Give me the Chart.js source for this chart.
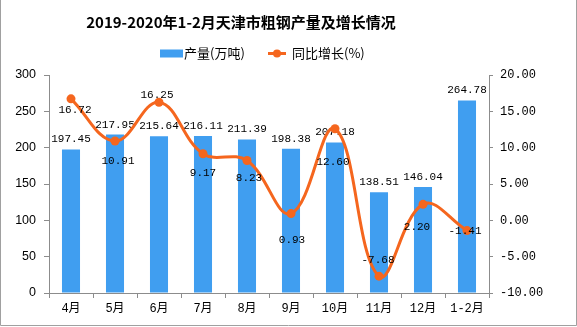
<!DOCTYPE html>
<html><head><meta charset="utf-8">
<script src="https://cdn.jsdelivr.net/npm/chart.js@4"></script>
<style>html,body{margin:0;padding:0;background:#fff;overflow:hidden}#c{display:block}</style>
</head><body>
<canvas id="c" width="577" height="327"></canvas>
<script>
const categories = ['4月','5月','6月','7月','8月','9月','10月','11月','12月','1-2月'];
const output = [197.45,217.95,215.64,216.11,211.39,198.38,207.18,138.51,146.04,264.78];
const growth = [16.72,10.91,16.25,9.17,8.23,0.93,12.60,-7.68,2.20,-1.41];
const titleText = '2019-2020年1-2月天津市粗钢产量及增长情况';
const seriesNames = ['产量(万吨)','同比增长(%)'];

const BLUE = '#409EF0', ORANGE = '#F5661E', AXIS = '#8C8C8C';
const LBL_FONT = '11px "Liberation Mono", "Noto Sans CJK SC", monospace';

const decor = {
  id: 'decor',
  afterDatasetDraw(chart, args) {
    if (args.index !== 1) return;
    const ctx = chart.ctx;
    ctx.save();
    ctx.font = LBL_FONT; ctx.fillStyle = '#000';
    ctx.textAlign = 'center'; ctx.textBaseline = 'middle';
    args.meta.data.forEach((el, i) => {
      ctx.fillText(output[i].toFixed(2), el.x, el.y - 10);
    });
    ctx.restore();
  },
  afterDatasetsDraw(chart, args, opts) {
    const ctx = chart.ctx;
    const meta = chart.getDatasetMeta(0);
    ctx.save();
    ctx.font = LBL_FONT; ctx.fillStyle = '#000';
    ctx.textAlign = 'center'; ctx.textBaseline = 'middle';
    meta.data.forEach((el, i) => {
      const o = opts.offsets[i];
      ctx.fillText(growth[i].toFixed(2), el.x + o[0], el.y + o[1]);
    });
    ctx.restore();
  },
  afterDraw(chart) {
    const ctx = chart.ctx;
    ctx.save();
    // title
    ctx.fillStyle = '#000';
    ctx.font = 'bold 15px "Noto Sans CJK SC", sans-serif';
    ctx.textAlign = 'center'; ctx.textBaseline = 'middle';
    ctx.fillText(titleText, 241, 22);
    // legend
    ctx.font = '13px "Noto Sans CJK SC", sans-serif';
    ctx.textAlign = 'left';
    ctx.fillStyle = BLUE;
    ctx.fillRect(160, 49.5, 23, 8);
    ctx.fillStyle = '#000';
    ctx.fillText(seriesNames[0], 184, 53);
    ctx.strokeStyle = ORANGE; ctx.lineWidth = 3;
    ctx.beginPath(); ctx.moveTo(268, 53.5); ctx.lineTo(286, 53.5); ctx.stroke();
    ctx.fillStyle = ORANGE;
    ctx.beginPath(); ctx.arc(277, 53.5, 4, 0, Math.PI * 2); ctx.fill();
    ctx.fillStyle = '#000';
    ctx.fillText(seriesNames[1], 292, 53);
    // frame
    ctx.strokeStyle = '#A0A0A0'; ctx.lineWidth = 1;
    ctx.beginPath();
    ctx.moveTo(0.5, 0); ctx.lineTo(0.5, 325.5); ctx.lineTo(576.5, 325.5); ctx.lineTo(576.5, 0);
    ctx.stroke();
    ctx.restore();
  }
};

new Chart(document.getElementById('c'), {
  data: {
    labels: categories,
    datasets: [
      {
        type: 'line', label: seriesNames[1], data: growth, yAxisID: 'y1', order: 0,
        borderColor: ORANGE, backgroundColor: ORANGE, borderWidth: 3,
        tension: 0.4, pointRadius: 4.5, pointBackgroundColor: ORANGE, pointBorderWidth: 0,
        fill: false
      },
      {
        type: 'bar', label: seriesNames[0], data: output, yAxisID: 'y', order: 1,
        backgroundColor: BLUE, barPercentage: 0.82, categoryPercentage: 0.5
      }
    ]
  },
  options: {
    responsive: false, animation: false, devicePixelRatio: 1,
    layout: { padding: { top: 75, left: 0, right: 0, bottom: 0 } },
    plugins: {
      legend: { display: false }, title: { display: false }, tooltip: { enabled: false },
      decor: { offsets: [[4,11],[3,20],[-2,-7],[0,19],[2,18],[1,27],[-2,33],[-1,-16],[-6,23],[-2,1]] }
    },
    scales: {
      x: {
        grid: { display: true, drawOnChartArea: false, drawTicks: true, tickLength: 5, color: AXIS, offset: true },
        border: { color: AXIS },
        ticks: { color: '#000', padding: 4, font: { family: '"Liberation Mono", "Noto Sans CJK SC", monospace', size: 12 }, maxRotation: 0, autoSkip: false },
        afterFit(s) { s.height = 34; }
      },
      y: {
        position: 'left', min: 0, max: 300,
        grid: { display: true, drawOnChartArea: false, tickLength: 5, color: AXIS },
        border: { color: AXIS },
        ticks: { stepSize: 50, color: '#000', padding: 8, font: { family: '"Liberation Sans", Arial, sans-serif', size: 12.5 } },
        afterFit(s) { s.width = 49; }
      },
      y1: {
        position: 'right', min: -10, max: 20,
        grid: { display: true, drawOnChartArea: false, tickLength: 4, color: AXIS },
        border: { color: AXIS },
        ticks: { stepSize: 5, color: '#000', padding: 7, font: { family: '"Liberation Mono", monospace', size: 12 }, callback: v => Number(v).toFixed(2) },
        afterFit(s) { s.width = 88; }
      }
    }
  },
  plugins: [decor]
});
</script>
</body></html>
